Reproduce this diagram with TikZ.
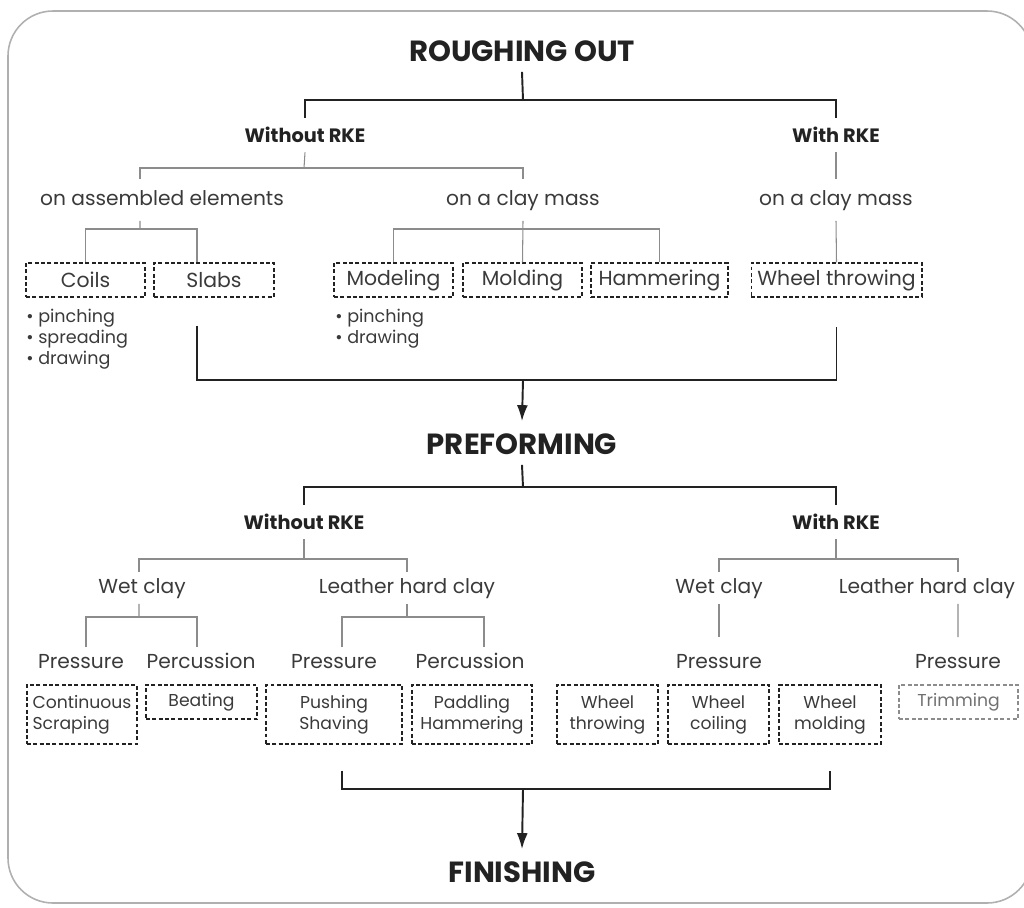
\documentclass[tikz,border=0pt]{standalone}
\usepackage{fontspec}
\setmainfont{Poppins}
\usepackage{tikz}
\usetikzlibrary{positioning,arrows.meta,calc}
\definecolor{inkgray}{HTML}{222222}
\definecolor{txtgray}{HTML}{3A3A3A}
\definecolor{linegray}{HTML}{8C8C8C}
\definecolor{framegray}{HTML}{B0B0B0}
\tikzstyle{stage}=[%
      font=\fontsize{16.6}{19}\selectfont\bfseries, text=inkgray,
      inner xsep=2pt, inner ysep=0.2cm, text height=0.46cm, text depth=0cm
]
\tikzstyle{rke}=[%
      font=\fontsize{11}{13}\selectfont\bfseries, text=inkgray,
      inner xsep=2pt, inner ysep=0.2cm, text height=0.28cm, text depth=0cm
]
\tikzstyle{cat}=[%
      font=\fontsize{11.5}{14}\selectfont, text=txtgray,
      inner xsep=2pt, inner ysep=0.22cm, text height=0.3cm, text depth=0.08cm
]
\tikzstyle{sub}=[cat, inner ysep=0.12cm]
\tikzstyle{tech}=[%
      rectangle, draw=inkgray, dash pattern=on 2.2pt off 1.4pt, line width=0.6pt,
      font=\fontsize{11.6}{14}\selectfont, text=txtgray,
      inner sep=0pt, minimum height=0.68cm, align=center
]
\tikzstyle{tool}=[tech, font=\fontsize{9.8}{12}\selectfont]
\tikzstyle{tooltwo}=[tool, minimum height=1.18cm]
\tikzstyle{bul}=[font=\fontsize{10}{12}\selectfont, text=txtgray, align=left, anchor=west, inner sep=0pt]
\tikzstyle{trunk}=[draw=inkgray, line width=1.1pt]
\tikzstyle{branch}=[draw=linegray, line width=0.6pt]
\tikzstyle{frame}=[draw=framegray, line width=0.9pt, rounded corners=0.9cm]
\begin{document}
\begin{tikzpicture}[x=0.02cm, y=-0.02cm]
    \useasboundingbox (0,0) rectangle (1024,907);
    \clip (0,0) rectangle (1024,907);
    \draw[frame] (8,11) rectangle (1032,903);

    % roughing out
    \node[stage] (rough) at (522,50)  {ROUGHING OUT};
    \node[rke]   (wo1)   at (305,135) {Without RKE};
    \node[rke]   (w1)    at (836,135) {With RKE};
    \node[cat]   (asm)   at (162,200) {on assembled elements};
    \node[cat]   (mass1) at (523,200) {on a clay mass};
    \node[cat]   (mass2) at (836,200) {on a clay mass};

    \node[tech, minimum width=2.38cm] (coils)     at (85.5,280)  {Coils};
    \node[tech, minimum width=2.40cm] (slabs)     at (214,280)   {Slabs};
    \node[tech, minimum width=2.38cm] (modeling)  at (393.5,280) {Modeling};
    \node[tech, minimum width=2.38cm] (molding)   at (522.5,280) {Molding};
    \node[tech, minimum width=2.74cm] (hammering) at (659.5,280) {Hammering};
    \node[tech, minimum width=3.42cm] (wt1)       at (836.5,280) {Wheel throwing};

    \node[bul] (coilsnote) at (26,339)    {\textbullet\ pinching\\\textbullet\ spreading\\\textbullet\ drawing};
    \node[bul] (modnote)   at (335,328.5) {\textbullet\ pinching\\\textbullet\ drawing};

    \coordinate (j1) at (523,100);
    \coordinate (j2) at (304,168);
    \coordinate (j3) at (140,229);
    \coordinate (j4) at (523,229);
    \coordinate (m1) at (523,380);

    \draw[trunk] (rough.south) -- (j1);
    \draw[trunk] (wo1.north) |- (j1) -| (w1.north);
    \draw[branch] (wo1.south) -- (j2);
    \draw[branch] ([xshift=-0.44cm]asm.north) |- (j2) -| (mass1.north);
    \draw[branch] (w1.south) -- (mass2.north);
    \draw[branch] ([xshift=-0.44cm]asm.south) -- (j3);
    \draw[branch] (coils.north) |- (j3) -| ([xshift=-0.34cm]slabs.north);
    \draw[branch] (mass1.south) -- (molding.north);
    \draw[branch] (modeling.north) |- (j4) -| (hammering.north);
    \draw[branch] (mass2.south) -- (wt1.north);

    \draw[trunk] ([xshift=-0.34cm,yshift=-0.56cm]slabs.south) |- (m1) -| ([yshift=-0.58cm]wt1.south);

    % preforming
    \node[stage] (pre)  at (522,443) {PREFORMING};
    \node[rke]   (wo2)  at (304,522) {Without RKE};
    \node[rke]   (w2)   at (836,522) {With RKE};
    \node[sub]   (wet1) at (142,588) {Wet clay};
    \node[sub]   (lh1)  at (407,588) {Leather hard clay};
    \node[sub]   (wet2) at (719,588) {Wet clay};
    \node[sub]   (lh2)  at (927,588) {Leather hard clay};

    \node[sub] (p1)  at (81,663)  {Pressure};
    \node[sub] (pc1) at (201,663) {Percussion};
    \node[sub] (p2)  at (334,663) {Pressure};
    \node[sub] (pc2) at (470,663) {Percussion};
    \node[sub] (p3)  at (719,663) {Pressure};
    \node[sub] (p4)  at (958,663) {Pressure};

    \node[tooltwo, minimum width=2.20cm, align=left] (cont)  at (82,714.5)    {Continuous\\Scraping};
    \node[tool,    minimum width=2.22cm]             (beat)  at (201.5,702)   {Beating};
    \node[tooltwo, minimum width=2.72cm]             (push)  at (334,714.5)   {Pushing\\Shaving};
    \node[tooltwo, minimum width=2.40cm]             (padd)  at (472,714.5)   {Paddling\\Hammering};
    \node[tooltwo, minimum width=2.02cm]             (wt2)   at (607.5,714.5) {Wheel\\throwing};
    \node[tooltwo, minimum width=2.02cm]             (wcoil) at (718.5,714.5) {Wheel\\coiling};
    \node[tooltwo, minimum width=2.04cm]             (wmold) at (830,714.5)   {Wheel\\molding};
    \node[tool,    minimum width=2.38cm, draw=linegray, text=linegray!80!black] (trim) at (958.5,702) {Trimming};

    \coordinate (j5) at (523,487);
    \coordinate (j6) at (304,559);
    \coordinate (j7) at (836,559);
    \coordinate (j8) at (139,617);
    \coordinate (j9) at (407,617);
    \coordinate (m2) at (523,789);

    \draw[trunk, -{Latex[length=3.2mm,width=2.2mm]}] (m1) -- (pre.north);
    \draw[trunk] (pre.south) -- (j5);
    \draw[trunk] (wo2.north) |- (j5) -| (w2.north);
    \draw[branch] (wo2.south) -- (j6);
    \draw[branch] ([xshift=-0.06cm]wet1.north) |- (j6) -| (lh1.north);
    \draw[branch] (w2.south) -- (j7);
    \draw[branch] (wet2.north) |- (j7) -| ([xshift=0.62cm]lh2.north);
    \draw[branch] ([xshift=-0.06cm]wet1.south) -- (j8);
    \draw[branch] ([xshift=0.1cm]p1.north) |- (j8) -| ([xshift=-0.08cm]pc1.north);
    \draw[branch] (lh1.south) -- (j9);
    \draw[branch] ([xshift=0.16cm]p2.north) |- (j9) -| ([xshift=0.28cm]pc2.north);
    \draw[branch] (wet2.south) -- ([yshift=0.2cm]p3.north);
    \draw[branch] ([xshift=0.62cm]lh2.south) -- ([yshift=0.2cm]p4.north);

    % finishing
    \node[stage] (fin) at (522,871) {FINISHING};
    \draw[trunk] ([xshift=0.16cm,yshift=-0.52cm]push.south) |- (m2) -| ([yshift=-0.52cm]wmold.south);
    \draw[trunk, -{Latex[length=3.2mm,width=2.2mm]}] (m2) -- (fin.north);
\end{tikzpicture}
\end{document}
